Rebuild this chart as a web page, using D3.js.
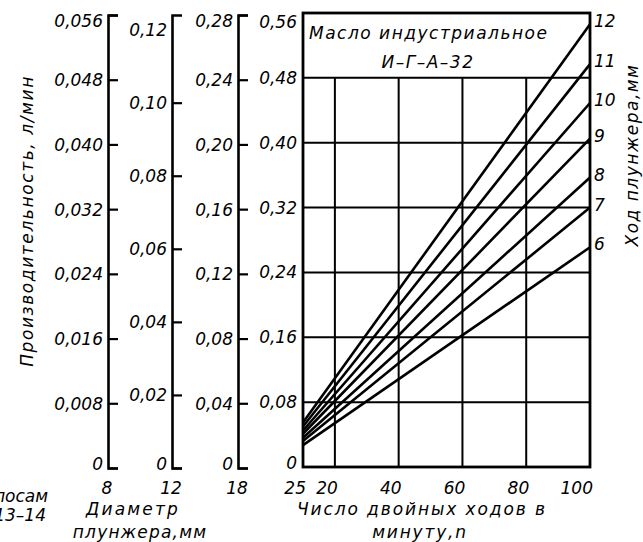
<!DOCTYPE html>
<html>
<head>
<meta charset="utf-8">
<script src="https://cdn.jsdelivr.net/npm/d3@7"></script>
<style>
  body { margin: 0; background: #fff; }
  text { font-family: "DejaVu Sans", sans-serif; font-style: italic; fill: #000; }
</style>
</head>
<body>
<script>
// plunger stroke, mm (one line each)
var strokes = [6, 7, 8, 9, 10, 11, 12];
// capacity at n = 10 and n = 100, l/min (main scale)
var qStart = [0.027, 0.032, 0.036, 0.041, 0.045, 0.050, 0.055];
var qEnd = [0.271, 0.320, 0.357, 0.405, 0.449, 0.497, 0.546];
var nRange = [10, 100];
var nTicks = [20, 40, 60, 80, 100];

// plunger diameters under each scale
var diameters = ["8", "12", "18", "25"];
var ticks8 = [0, 0.008, 0.016, 0.024, 0.032, 0.040, 0.048, 0.056];
var ticks12 = [0, 0.02, 0.04, 0.06, 0.08, 0.10, 0.12];
var ticks18 = [0, 0.04, 0.08, 0.12, 0.16, 0.20, 0.24, 0.28];
var ticks25 = [0, 0.08, 0.16, 0.24, 0.32, 0.40, 0.48, 0.56];

function chart() {
  var w = 643, h = 542;
  var pLeft = 303, pRight = 590, pTop = 13, pBottom = 467;
  var fs = 17;

  var svg = d3.select("body").append("svg")
    .attr("width", w)
    .attr("height", h);

  var x = d3.scaleLinear().domain(nRange).range([pLeft, pRight]);
  var y = d3.scaleLinear().domain([0, 0.56]).range([pBottom, pTop]);

  var fmt = function(d, dec) { return d === 0 ? "0" : d.toFixed(dec).replace(".", ","); };

  // the three extra scales on the left
  var scales = [
    { ax: 108, s: d3.scaleLinear().domain([0, 0.056]).range([468, 15]), t: ticks8, dec: 3 },
    { ax: 172, s: d3.scaleLinear().domain([0, 0.124]).range([468, 15]), t: ticks12, dec: 2 },
    { ax: 238, s: d3.scaleLinear().domain([0, 0.28]).range([468, 15]), t: ticks18, dec: 2 }
  ];

  scales.forEach(function(a, k) {
    var g = svg.append("g")
      .attr("transform", "translate(" + a.ax + ",0)")
      .call(d3.axisLeft(a.s).tickValues(a.t).tickSizeInner(-10).tickSizeOuter(-10)
        .tickPadding(5).tickFormat(function(d) { return fmt(d, a.dec); }));
    g.select(".domain").attr("stroke", "#000").attr("stroke-width", 2.6).attr("fill", "none");
    g.selectAll(".tick line").attr("stroke", "#000").attr("stroke-width", 2.2);
    g.selectAll(".tick text")
      .attr("font-size", fs)
      .attr("font-family", "DejaVu Sans")
      .attr("dy", function(d) { return a.s(d) < 20 ? "0.7em" : "0.35em"; })
      .attr("y", function(d) { return d === 0 ? -4 : 0; });
    // no mark at 0,12 on the d=12 scale
    if (k == 1) g.selectAll(".tick line").filter(function(d) { return d === 0.12; }).remove();
  });

  // main grid
  svg.append("g").selectAll("line")
    .data(ticks25.filter(function(d) { return d > 0 && d < 0.56; }))
    .enter().append("line")
    .attr("x1", pLeft).attr("x2", pRight)
    .attr("y1", function(d) { return y(d); })
    .attr("y2", function(d) { return y(d); })
    .attr("stroke", "#000").attr("stroke-width", 2);

  svg.append("g").selectAll("line")
    .data(nTicks.filter(function(d) { return d < 100; }))
    .enter().append("line")
    .attr("x1", function(d) { return x(d); })
    .attr("x2", function(d) { return x(d); })
    .attr("y1", pBottom).attr("y2", y(0.48))
    .attr("stroke", "#000").attr("stroke-width", 2);

  svg.append("rect")
    .attr("x", pLeft).attr("y", pTop)
    .attr("width", pRight - pLeft).attr("height", pBottom - pTop)
    .attr("fill", "none").attr("stroke", "#000").attr("stroke-width", 2.8);

  // main y labels
  svg.append("g").selectAll("text")
    .data(ticks25)
    .enter().append("text")
    .attr("x", pLeft - 6)
    .attr("y", function(d) { return d === 0.56 ? y(d) + 9 : (d === 0 ? y(d) - 4 : y(d)); })
    .attr("dy", "0.35em")
    .attr("text-anchor", "end")
    .attr("font-size", fs)
    .text(function(d) { return fmt(d, 2); });

  // stroke lines
  svg.append("g").selectAll("line")
    .data(strokes)
    .enter().append("line")
    .attr("x1", x(nRange[0]))
    .attr("y1", function(d, i) { return y(qStart[i]); })
    .attr("x2", x(nRange[1]))
    .attr("y2", function(d, i) { return y(qEnd[i]); })
    .attr("stroke", "#000").attr("stroke-width", 2.6);

  svg.append("g").selectAll("text")
    .data(strokes)
    .enter().append("text")
    .attr("x", pRight + 4)
    .attr("y", function(d, i) { return y(qEnd[i]) - 3; })
    .attr("dy", "0.35em")
    .attr("font-size", fs)
    .text(function(d) { return d; });

  // x labels
  svg.append("g").selectAll("text")
    .data(nTicks)
    .enter().append("text")
    .attr("x", function(d) { return x(d) + 3; })
    .attr("y", 494)
    .attr("text-anchor", "end")
    .attr("font-size", fs)
    .text(function(d) { return d; });

  var axisX = [108, 172, 238, 303];
  svg.append("g").selectAll("text")
    .data(diameters)
    .enter().append("text")
    .attr("x", function(d, i) { return i == 3 ? axisX[i] + 3 : axisX[i] - 1; })
    .attr("y", 494)
    .attr("text-anchor", function(d, i) { return i == 3 ? "end" : "middle"; })
    .attr("font-size", fs)
    .text(function(d) { return d; });

  // titles
  svg.append("text").attr("x", 309).attr("y", 39).attr("font-size", fs)
    .attr("letter-spacing", "1.5px")
    .text("Масло  индустриальное");
  svg.append("text").attr("x", 428).attr("y", 68).attr("text-anchor", "middle").attr("font-size", fs)
    .attr("letter-spacing", "1.5px")
    .text("И–Г–А–32");

  svg.append("text").attr("x", 297).attr("y", 515).attr("font-size", fs)
    .attr("letter-spacing", "1.9px")
    .text("Число  двойных  ходов  в");
  svg.append("text").attr("x", 420).attr("y", 538).attr("text-anchor", "middle").attr("font-size", fs)
    .attr("letter-spacing", "1.8px")
    .text("минуту,n");

  svg.append("text").attr("x", 133).attr("y", 515).attr("text-anchor", "middle").attr("font-size", fs)
    .attr("letter-spacing", "2.2px")
    .text("Диаметр");
  svg.append("text").attr("x", 140).attr("y", 538).attr("text-anchor", "middle").attr("font-size", fs)
    .attr("letter-spacing", "1.2px")
    .text("плунжера,мм");

  svg.append("text").attr("x", 48).attr("y", 502).attr("text-anchor", "end").attr("font-size", fs)
    .text("полосам");
  svg.append("text").attr("x", 46).attr("y", 521).attr("text-anchor", "end").attr("font-size", fs)
    .text("13–14");

  svg.append("text")
    .attr("transform", "translate(33,221) rotate(-90)")
    .attr("text-anchor", "middle").attr("font-size", 17)
    .attr("letter-spacing", "1.6px")
    .text("Производительность, л/мин");

  svg.append("text")
    .attr("transform", "translate(638,155) rotate(-90)")
    .attr("text-anchor", "middle").attr("font-size", 17)
    .attr("letter-spacing", "1.5px")
    .text("Ход  плунжера,мм");
}

chart();
</script>
</body>
</html>
